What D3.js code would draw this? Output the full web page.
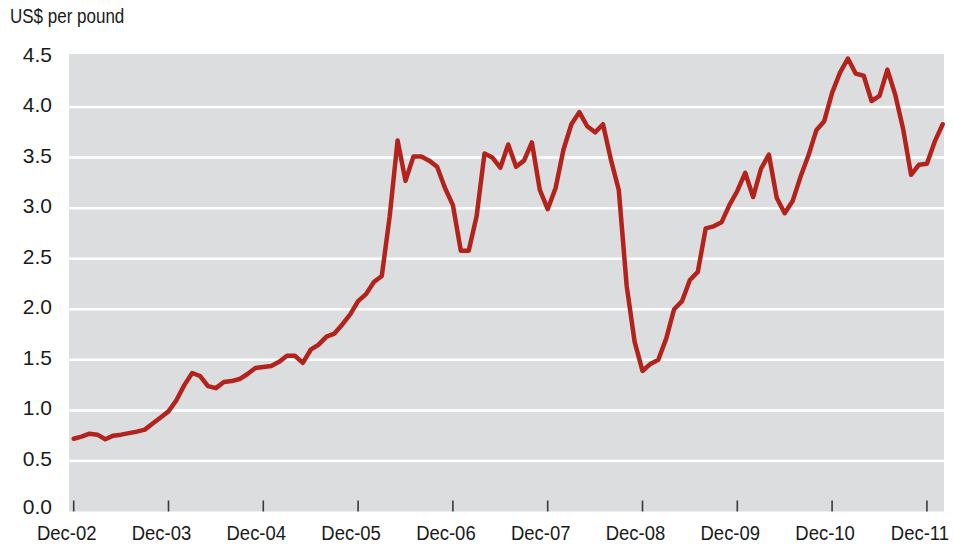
<!DOCTYPE html>
<html lang="en">
<head>
    <meta charset="UTF-8">
    <title>Copper price, US$ per pound</title>
    <script src="https://d3js.org/d3.v7.min.js"></script>
    <style>
        * {
            margin: 0;
            padding: 0;
            box-sizing: border-box;
        }

        body {
            background-color: #ffffff;
            font-family: "Liberation Sans", Arial, sans-serif;
            overflow: hidden;
        }

        .unit {
            font-size: 20px;
            fill: #1a1a1a;
        }

        .y-label {
            font-size: 21px;
            fill: #1a1a1a;
        }

        .x-label {
            font-size: 21px;
            fill: #1a1a1a;
        }

        .grid line {
            stroke: #ffffff;
            stroke-width: 2.5px;
        }

        .tick-mark {
            stroke: #3a3a3a;
            stroke-width: 1.6px;
        }

        .price-line {
            fill: none;
            stroke: #b3221b;
            stroke-width: 4.5px;
            stroke-linejoin: round;
            stroke-linecap: round;
        }
    </style>
</head>
<body>
    <svg></svg>

    <script>
        // Monthly prices, Dec 2002 .. Feb 2012 (US$ per pound)
        const prices2002 = [0.72];
        const prices2003 = [0.74, 0.77, 0.76, 0.715, 0.75, 0.76, 0.775, 0.79, 0.81, 0.87, 0.93, 0.99];
        const prices2004 = [1.10, 1.25, 1.37, 1.34, 1.24, 1.22, 1.28, 1.29, 1.31, 1.36, 1.42, 1.43];
        const prices2005 = [1.44, 1.48, 1.54, 1.54, 1.47, 1.60, 1.65, 1.73, 1.76, 1.85, 1.95, 2.08];
        const prices2006 = [2.15, 2.27, 2.33, 2.92, 3.67, 3.27, 3.51, 3.51, 3.47, 3.41, 3.20, 3.03];
        const prices2007 = [2.58, 2.58, 2.92, 3.54, 3.50, 3.40, 3.63, 3.41, 3.47, 3.65, 3.18, 2.99];
        const prices2008 = [3.20, 3.58, 3.83, 3.95, 3.81, 3.75, 3.83, 3.48, 3.18, 2.23, 1.68, 1.39];
        const prices2009 = [1.46, 1.50, 1.71, 2.00, 2.08, 2.29, 2.37, 2.80, 2.82, 2.86, 3.03, 3.17];
        const prices2010 = [3.35, 3.11, 3.39, 3.53, 3.10, 2.95, 3.07, 3.31, 3.52, 3.77, 3.86, 4.14];
        const prices2011 = [4.34, 4.48, 4.33, 4.31, 4.06, 4.11, 4.37, 4.12, 3.78, 3.33, 3.43, 3.44];
        const prices2012 = [3.66, 3.83];

        const prices = [].concat(prices2002, prices2003, prices2004, prices2005, prices2006,
            prices2007, prices2008, prices2009, prices2010, prices2011, prices2012);

        // Tick labels sit on every December (index 0, 12, 24 ...)
        const tickLabels = ["Dec-02", "Dec-03", "Dec-04", "Dec-05", "Dec-06",
            "Dec-07", "Dec-08", "Dec-09", "Dec-10", "Dec-11"];
        const yTicks = [0, 0.5, 1, 1.5, 2, 2.5, 3, 3.5, 4, 4.5];
        const unitLabel = "US$ per pound";

        const width = 954;
        const height = 549;

        const svg = d3.select("svg")
            .attr("width", width)
            .attr("height", height);

        const plot = { left: 69, right: 944, top: 54, bottom: 511.5 };

        const x = d3.scaleLinear()
            .domain([0, prices.length - 1])
            .range([73.7, 942.7]);

        const y = d3.scaleLinear()
            .domain([0, 4.5])
            .range([511.5, 56.5]);

        // Grauer Hintergrund
        svg.append("rect")
            .attr("x", plot.left)
            .attr("y", plot.top)
            .attr("width", plot.right - plot.left)
            .attr("height", plot.bottom - plot.top)
            .attr("fill", "#dcdddf");

        // Horizontal gridlines (not at 0 and not at the top)
        svg.append("g")
            .attr("class", "grid")
            .selectAll("line")
            .data(yTicks.filter(d => d > 0 && d < 4.5))
            .enter().append("line")
            .attr("x1", plot.left)
            .attr("x2", plot.right)
            .attr("y1", d => y(d))
            .attr("y2", d => y(d));

        // Y labels, sitting a little above their gridline
        svg.append("g")
            .selectAll("text")
            .data(yTicks)
            .enter().append("text")
            .attr("class", "y-label")
            .attr("x", 52)
            .attr("y", d => y(d) - (d === 0 ? 5.5 : 2.5))
            .attr("dy", "0.36em")
            .attr("text-anchor", "end")
            .text(d => d.toFixed(1));

        // X ticks point upwards from the bottom edge
        const tickIdx = tickLabels.map((d, i) => i * 12);

        svg.append("g")
            .selectAll("line")
            .data(tickIdx)
            .enter().append("line")
            .attr("class", "tick-mark")
            .attr("x1", d => x(d))
            .attr("x2", d => x(d))
            .attr("y1", plot.bottom)
            .attr("y2", plot.bottom - 11);

        // condensed look: squeeze the labels horizontally
        svg.append("g")
            .selectAll("text")
            .data(tickLabels)
            .enter().append("text")
            .attr("class", "x-label")
            .attr("transform", (d, i) => `translate(${x(i * 12) - 7}, 540) scale(0.88, 1)`)
            .attr("text-anchor", "middle")
            .text(d => d);

        // Preislinie
        const line = d3.line()
            .x((d, i) => x(i))
            .y(d => y(d));

        svg.append("path")
            .datum(prices)
            .attr("class", "price-line")
            .attr("d", line);

        svg.append("text")
            .attr("class", "unit")
            .attr("transform", "translate(10, 23) scale(0.85, 1)")
            .text(unitLabel);
    </script>
</body>
</html>
